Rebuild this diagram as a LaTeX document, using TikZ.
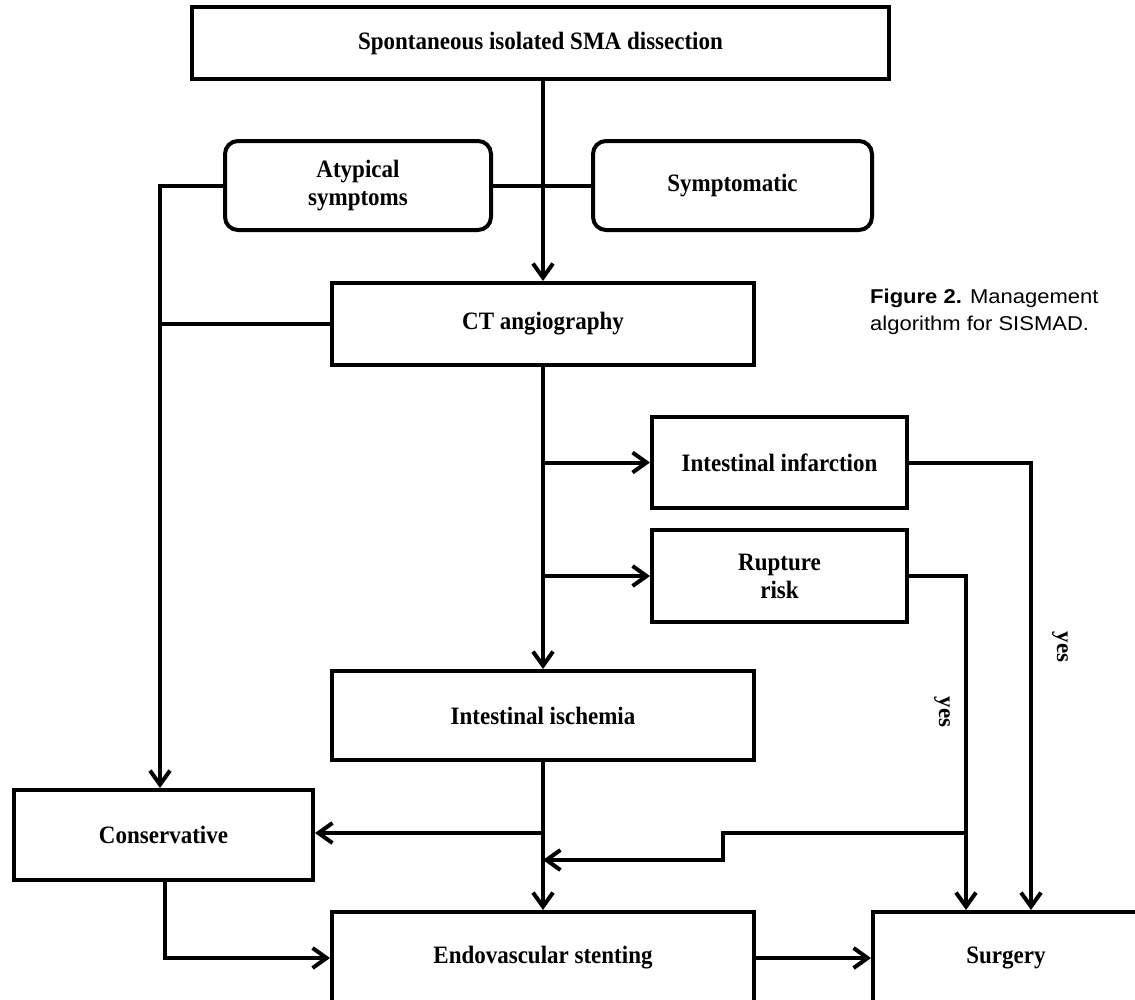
\documentclass[tikz,border=0pt]{standalone}
\usepackage{fontspec}
\setmainfont{Liberation Serif}
\newfontfamily\boxfont{Liberation Serif}[FakeStretch=0.92]
\newfontfamily\capfont{Liberation Sans}[FakeStretch=1.1]
\usetikzlibrary{arrows.meta}
\begin{document}
\begin{tikzpicture}[x=1pt,y=-1pt,
  box/.style={draw, line width=4pt, inner sep=0pt, align=center, fill=white,
    font=\boxfont\bfseries\fontsize{25}{28}\selectfont},
  rbox/.style={box, rounded corners=13pt},
  link/.style={line width=4pt},
  arr/.style={line width=4pt, -{Straight Barb[length=14pt,width=20pt]}},
  yeslab/.style={font=\bfseries\fontsize{23}{26}\selectfont, inner sep=0pt, rotate=-90},
  caplab/.style={font=\capfont\fontsize{20}{27}\selectfont, inner sep=0pt, anchor=base west}]
\useasboundingbox (0,0) rectangle (1135,999);
\clip (0,0) rectangle (1135,999);

% nodes
\node[box, minimum width=697pt, minimum height=72pt] (top) at (540.5,43) {Spontaneous isolated SMA dissection};
\node[rbox, minimum width=266pt, minimum height=89pt] (atyp) at (358,185.5) {Atypical\\symptoms};
\node[rbox, minimum width=279pt, minimum height=89pt] (symp) at (732.5,185.5) {Symptomatic};
\node[box, minimum width=422pt, minimum height=82pt] (ct) at (543,324) {CT angiography};
\node[box, minimum width=255pt, minimum height=91pt] (infarc) at (779.5,462.5) {Intestinal infarction};
\node[box, minimum width=255pt, minimum height=92pt] (rupt) at (779.5,576) {Rupture\\risk};
\node[box, minimum width=422pt, minimum height=89pt] (isch) at (543,715.5) {Intestinal ischemia};
\node[box, minimum width=299pt, minimum height=90pt] (cons) at (163.5,835) {Conservative};
\node[box, minimum width=422pt, minimum height=92pt] (endo) at (543,958) {Endovascular stenting};
\node[box, minimum width=266pt, minimum height=92pt] (surg) at (1006,958) {Surgery};

\node[yeslab] (yes1) at (1060,647) {yes};
\node[yeslab] (yes2) at (942,712) {yes};

\node[caplab] (cap1) at (870,303) {\textbf{Figure 2.} Management};
\node[caplab] (cap2) at (870,330) {algorithm for SISMAD.};

% helper coordinates
\coordinate (lx) at (160,0);
\coordinate (r1) at (1031,0);
\coordinate (r2) at (966,0);
\coordinate (j1) at (543,833);
\coordinate (s1) at (966,833);
\coordinate (s2) at (723,833);
\coordinate (s3) at (723,860);
\coordinate (s4) at (543,860);

% connectors
\draw[arr] (top.south -| ct.north) -- (ct.north);
\draw[link] (atyp.east) -- (symp.west);
\draw[arr] (atyp.west) -| (cons.north -| lx);
\draw[link] (ct.west) -- (ct.west -| lx);
\draw[arr] (ct.south) -- (isch.north);
\draw[arr] (ct.south |- infarc.west) -- (infarc.west);
\draw[arr] (ct.south |- rupt.west) -- (rupt.west);
\draw[arr] (infarc.east) -| (surg.north -| r1);
\draw[arr] (rupt.east) -| (surg.north -| r2);
\draw[arr] (isch.south) -- (endo.north);
\draw[arr] (j1) -- (j1 -| cons.east);
\draw[arr] (s1) -- (s2) -- (s3) -- (s4);
\draw[arr] ([xshift=1.5pt]cons.south) |- (endo.west);
\draw[arr] (endo.east) -- (surg.west);
\end{tikzpicture}
\end{document}
